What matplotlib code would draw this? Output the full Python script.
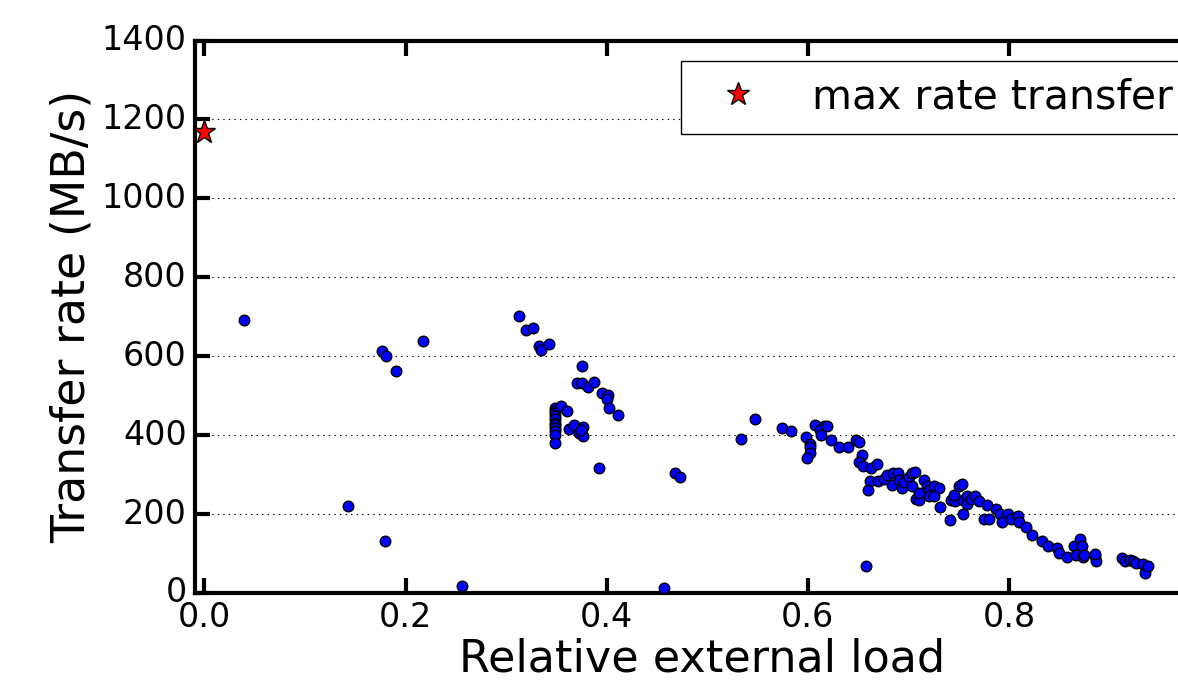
import numpy as np
import matplotlib
matplotlib.use('Agg')
import matplotlib.pyplot as plt

plt.style.use('classic')
plt.rcParams['font.family'] = ['DejaVu Sans']

# measured load / transfer rate pairs
load = [0.039, 0.143, 0.177, 0.181, 0.190, 0.1795, 0.217, 0.256,
        0.313, 0.320, 0.327, 0.333, 0.335, 0.343,
        0.375, 0.370, 0.375, 0.381, 0.387, 0.395, 0.401, 0.400, 0.402, 0.4115,
        0.349, 0.349, 0.349, 0.349, 0.349, 0.349, 0.349, 0.349, 0.349, 0.349, 0.349,
        0.355, 0.361, 0.363, 0.368, 0.372, 0.3765, 0.376, 0.374, 0.392,
        0.457, 0.468, 0.473, 0.534, 0.5475, 0.574, 0.583,
        0.598, 0.602, 0.602, 0.602, 0.599, 0.6075, 0.616, 0.6125, 0.613,
        0.619, 0.623, 0.631, 0.640, 0.648, 0.651, 0.654, 0.651, 0.655, 0.663,
        0.669, 0.662, 0.660, 0.658, 0.670, 0.676, 0.6785, 0.684, 0.685, 0.690,
        0.691, 0.694, 0.696, 0.701, 0.704, 0.707, 0.704, 0.7075, 0.711, 0.711,
        0.7155, 0.719, 0.721, 0.7255, 0.730, 0.721, 0.726, 0.731, 0.741, 0.742,
        0.746, 0.745, 0.7505, 0.753, 0.7545, 0.754, 0.758, 0.758, 0.762, 0.766,
        0.770, 0.7755, 0.780, 0.778, 0.787, 0.791, 0.793, 0.799, 0.802, 0.809,
        0.810, 0.817, 0.823, 0.833, 0.839, 0.848, 0.850, 0.858, 0.865, 0.871,
        0.873, 0.867, 0.874, 0.875, 0.886, 0.887, 0.886,
        0.912, 0.915, 0.920, 0.923, 0.926, 0.933, 0.935, 0.9385]
rate = [693, 221, 614, 600, 562, 133, 639, 19,
        701, 667, 671, 625, 617, 631,
        574, 533, 533, 522, 535, 506, 502, 492, 468, 452,
        469, 462, 455, 448, 440, 432, 425, 418, 410, 400, 380,
        473, 461, 415, 426, 405, 420, 397, 414, 316,
        12, 305, 294, 391, 440, 418, 411,
        396, 378, 370, 355, 343, 426, 424, 414, 401,
        422, 387, 371, 371, 388, 382, 349, 332, 323, 316,
        326, 283, 262, 69, 283, 288, 299, 273, 305, 304,
        287, 267, 281, 294, 305, 307, 270, 238, 236, 253,
        287, 272, 261, 272, 265, 246, 246, 218, 184, 236,
        233, 249, 270, 277, 236, 200, 246, 225, 239, 247,
        234, 187, 187, 223, 213, 200, 181, 200, 188, 194,
        181, 167, 148, 132, 120, 113, 102, 92, 120, 137,
        120, 96, 90, 96, 94, 81, 99,
        88, 81, 83, 80, 77, 73, 50, 69]

max_load = [0.0]
max_rate = [1169]

fig = plt.figure(figsize=(11.78, 6.81), dpi=100, facecolor='white')
ax = fig.add_axes([195 / 1178, 88 / 681, 1015 / 1178, 552.5 / 681])

ax.scatter(load, rate, s=58, c='b', edgecolors='k', linewidths=1.0, zorder=3)
ax.plot(max_load, max_rate, linestyle='none', marker='*', markersize=17,
        markerfacecolor='r', markeredgecolor='k', markeredgewidth=1.0,
        label='max rate transfer', zorder=4, clip_on=False)

ax.set_xlim(-0.0094, 1.0)
ax.set_ylim(0, 1400)
ax.set_xticks([0.0, 0.2, 0.4, 0.6, 0.8])
ax.set_yticks(np.arange(0, 1401, 200))
ax.yaxis.grid(True, linestyle=':', color='k', linewidth=0.8)
ax.xaxis.grid(False)

for s in ax.spines.values():
    s.set_linewidth(3)
ax.tick_params(which='major', direction='in', length=11, width=3,
               labelsize=24, top=True, right=True, pad=6)

ax.set_xlabel('Relative external load', fontsize=32, labelpad=2)
ax.set_ylabel('Transfer rate (MB/s)', fontsize=33)

leg = ax.legend(loc='upper right', numpoints=1, fontsize=29.5, fancybox=False)
leg.get_frame().set_linewidth(1.0)

fig.savefig('out.png', dpi=100, facecolor='white')
